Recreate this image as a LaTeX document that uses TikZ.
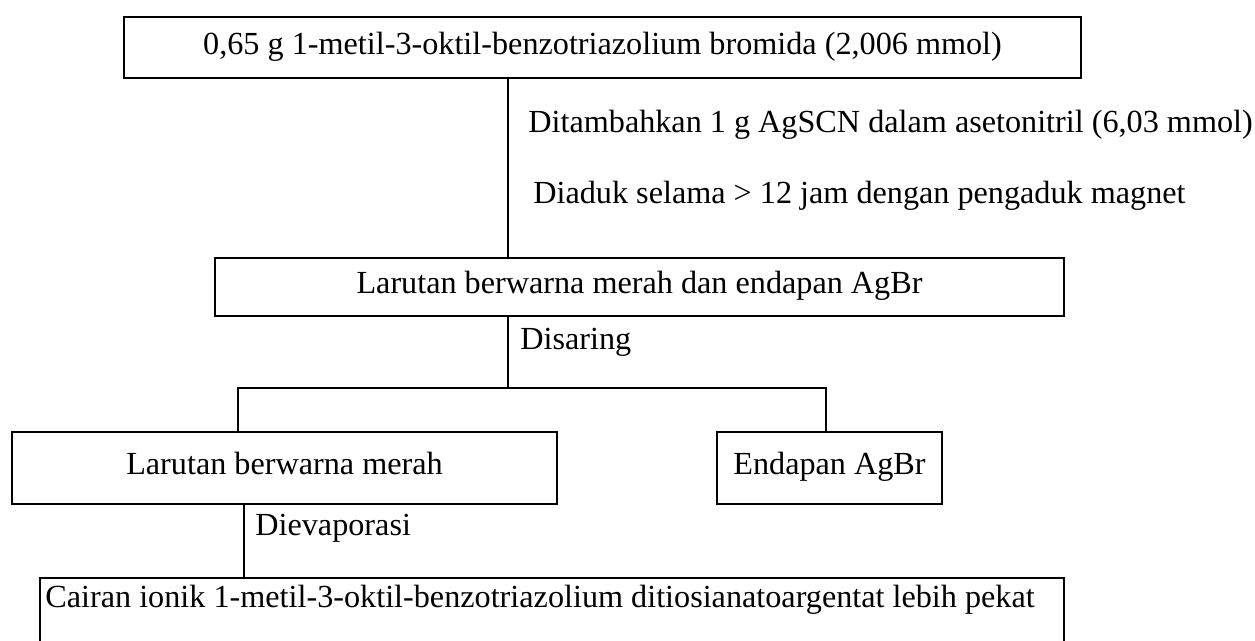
\documentclass[tikz,border=0pt]{standalone}
\usepackage{fontspec}
\setmainfont{Liberation Serif}
\begin{document}
\begin{tikzpicture}[x=0.5pt,y=-0.5pt,
  every node/.style={font=\fontsize{16.1}{19}\selectfont},
  box/.style={draw, line width=1pt, inner sep=0pt, anchor=north west, text height=0.66em, text depth=0pt},
  lbl/.style={anchor=base west, inner sep=0pt},
  conn/.style={line width=1pt}]
\useasboundingbox (0,0) rectangle (1255,641);
\node[box, minimum width=478.5pt, minimum height=30.5pt] (top) at (123,16) {0,65 g 1-metil-3-oktil-benzotriazolium bromida (2,006 mmol)};
\node[box, minimum width=424.5pt, minimum height=29pt] (mid) at (214,257) {Larutan berwarna merah dan endapan AgBr};
\node[box, minimum width=272.5pt, minimum height=36pt] (left) at (11,431) {Larutan berwarna merah};
\node[box, minimum width=112.5pt, minimum height=36pt] (right) at (716,431) {Endapan AgBr};
\node[box, minimum width=512pt, minimum height=60pt] (bot) at (39,577) {};
\node[lbl] (bottxt) at (45,608) {Cairan ionik 1-metil-3-oktil-benzotriazolium ditiosianatoargentat lebih pekat};
\node[lbl] (t1) at (528,133) {Ditambahkan 1 g AgSCN dalam asetonitril (6,03 mmol)};
\node[lbl] (t2) at (533,204) {Diaduk selama > 12 jam dengan pengaduk magnet};
\node[lbl] (t3) at (520,350) {Disaring};
\node[lbl] (t4) at (255,536) {Dievaporasi};
\coordinate (x1) at (508,0);
\coordinate (x2) at (244,0);
\coordinate (xl) at (238,0);
\coordinate (xr) at (826,0);
\coordinate (bar) at (0,388);
\draw[conn] (top.south -| x1) -- (mid.north -| x1);
\draw[conn] (mid.south -| x1) -- (bar -| x1);
\draw[conn] (left.north -| xl) -- (bar -| xl) -- (bar -| xr) -- (right.north -| xr);
\draw[conn] (left.south -| x2) -- (bot.north -| x2);
\end{tikzpicture}
\end{document}
